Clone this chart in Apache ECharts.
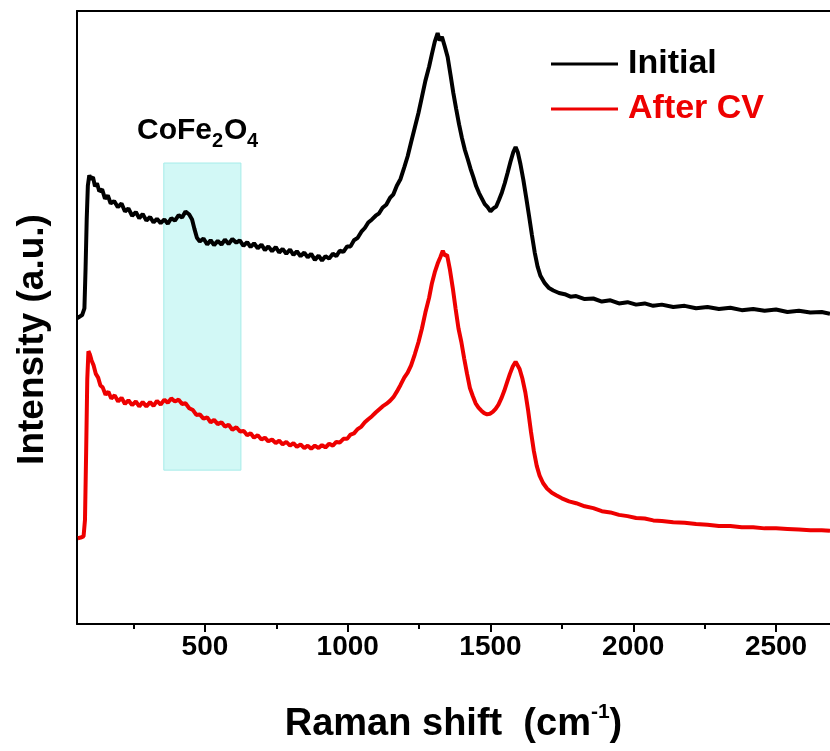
<!DOCTYPE html>
<html>
<head>
<meta charset="utf-8">
<script src="https://cdn.jsdelivr.net/npm/echarts@6/dist/echarts.min.js"></script>
<style>
html,body{margin:0;padding:0;background:#fff;}
#chart{width:830px;height:751px;}
</style>
</head>
<body>
<div id="chart"></div>
<script>
// ---- Data ----
const shiftInitial = [52,60,70,78,82,86,90,95,100,108,115,122,130,140,150,160,170,182,195,208,220,232,245,258,270,282,295,308,320,332,345,358,370,382,395,408,420,432,445,455,463,472,482,495,508,520,532,545,558,570,583,596,610,622,635,648,660,672,685,698,710,722,735,748,760,772,785,798,810,822,835,848,860,872,885,898,910,922,935,948,960,972,985,998,1010,1022,1035,1048,1060,1072,1085,1098,1110,1122,1135,1148,1160,1172,1185,1198,1210,1222,1235,1248,1260,1272,1285,1295,1305,1315,1322,1330,1340,1350,1360,1370,1380,1390,1400,1410,1420,1430,1440,1450,1460,1470,1480,1490,1500,1510,1520,1530,1540,1550,1560,1570,1580,1588,1596,1605,1615,1625,1635,1645,1655,1665,1675,1690,1705,1720,1740,1760,1780,1800,1830,1860,1890,1920,1950,1980,2010,2040,2070,2100,2140,2180,2220,2260,2300,2340,2380,2420,2460,2500,2540,2580,2620,2660,2689];
const intensityInitial = [49.9,50.1,50.4,51.5,58,66,71.5,73.2,72.6,72.9,71.4,71.9,70.6,70.9,69.4,69.9,68.6,69.0,68.0,68.6,67.3,67.8,66.6,67.2,66.2,66.9,65.8,66.4,65.5,66.1,65.4,66.0,65.3,66.2,65.8,66.7,66.3,67.3,66.8,66.0,64.5,63.0,62.4,62.9,61.9,62.6,61.8,62.5,61.9,62.7,62.0,62.8,62.2,62.6,61.7,62.3,61.5,62.1,61.3,61.9,61.0,61.6,60.8,61.5,60.6,61.2,60.4,61.1,60.2,60.8,60.0,60.6,59.8,60.4,59.4,60.1,59.3,60.0,59.6,60.4,60.0,60.9,60.7,61.6,61.6,62.6,63.0,64.0,64.6,65.5,66.0,66.6,67.0,67.9,68.4,69.5,70.1,71.5,72.6,74.5,76.3,78.6,81.0,83.4,86.0,88.6,90.9,93.0,95.0,96.4,95.2,95.8,94.2,92.5,89.6,86.6,84.0,81.5,79.3,77.4,75.9,74.3,72.9,71.4,70.3,69.4,68.5,68.0,67.3,67.8,68.1,69.2,70.4,71.9,73.6,75.4,77.0,77.8,76.9,75.0,72.5,69.6,66.6,63.5,60.6,58.3,56.8,55.6,54.8,54.4,54.0,53.8,53.4,53.5,53.0,53.1,52.6,52.8,52.3,52.5,52.1,52.3,51.9,52.1,51.7,51.9,51.5,51.7,51.4,51.6,51.2,51.4,51.1,51.3,50.9,51.1,50.8,50.9,50.6];

const shiftAfterCV = [55,65,75,80,84,88,92,97,103,110,118,126,134,142,152,162,172,184,196,208,220,232,245,258,270,282,295,308,320,332,345,358,370,382,395,408,420,432,445,458,470,482,495,508,520,532,545,558,570,583,596,610,623,636,648,660,672,685,698,710,722,735,748,760,772,785,798,810,822,835,848,860,872,885,898,910,922,935,948,960,972,985,998,1010,1022,1035,1048,1060,1072,1085,1098,1110,1122,1135,1148,1160,1172,1185,1198,1210,1222,1235,1248,1260,1272,1285,1295,1305,1315,1325,1333,1340,1348,1358,1368,1378,1388,1398,1408,1418,1428,1438,1448,1458,1468,1478,1488,1498,1508,1518,1528,1538,1548,1558,1568,1578,1588,1594,1602,1612,1622,1632,1642,1652,1662,1672,1684,1698,1715,1730,1750,1775,1800,1830,1860,1890,1920,1950,1980,2010,2040,2070,2100,2140,2180,2220,2260,2300,2340,2380,2420,2460,2500,2540,2580,2620,2660,2689];
const intensityAfterCV = [14.0,14.1,14.3,17,28,40,44.5,44.0,43.0,42.2,40.8,40.2,38.9,38.6,37.4,37.9,36.8,37.3,36.3,36.9,35.9,36.5,35.7,36.3,35.5,36.2,35.5,36.2,35.6,36.4,35.8,36.6,36.1,36.8,36.3,36.6,35.9,36.0,35.2,34.9,34.1,34.2,33.5,33.7,32.9,33.3,32.6,32.9,32.2,32.5,31.7,32.1,31.4,31.5,30.8,31.1,30.4,30.8,30.1,30.4,29.8,30.1,29.5,29.9,29.3,29.7,29.1,29.5,28.9,29.3,28.7,29.1,28.6,29.1,28.7,29.2,28.8,29.4,29.1,29.7,29.6,30.2,30.2,30.9,31.1,31.8,32.2,32.9,33.4,33.9,34.5,35.0,35.5,35.9,36.4,37.0,37.9,39.0,40.2,41.0,42.2,44.0,46.0,48.2,50.8,53.2,55.6,57.4,58.8,59.9,60.9,60.1,60.2,57.8,54.8,51.4,48.2,46.0,43.3,40.8,38.5,37.2,36.0,35.3,34.8,34.4,34.2,34.3,34.6,35.1,35.8,36.8,38.0,39.4,40.8,42.0,42.8,42.6,41.6,40.0,37.8,34.8,31.3,28.2,25.8,24.2,23.0,22.1,21.4,21.0,20.5,20.0,19.7,19.2,18.9,18.4,18.2,17.8,17.6,17.3,17.2,16.9,16.8,16.6,16.5,16.3,16.2,16.0,16.0,15.8,15.8,15.6,15.6,15.5,15.4,15.3,15.3,15.2];

const seriesNames = ['Initial', 'After CV'];
const majorTicks = [500, 1000, 1500, 2000, 2500];
const minorTicks = [250, 750, 1250, 1750, 2250];
const xRange = [52, 2689];
const yRange = [0, 100];
const bandShift = [356, 626];        // CoFe2O4 highlighted region (cm-1)
const bandIntensity = [25.1, 75.2];

// ---- Chart ----
const FONT = 'Arial, "Liberation Sans", Helvetica, sans-serif';
const zip = (xs, ys) => xs.map((x, i) => [x, ys[i]]);

const chart = echarts.init(document.getElementById('chart'), null, {renderer: 'canvas'});
chart.setOption({
  animation: false,
  backgroundColor: '#ffffff',
  grid: {left: 77, top: 11, right: 0, bottom: 127, containLabel: false, outerBoundsMode: 'none'},
  legend: {
    orient: 'vertical',
    left: 551,
    top: 44,
    padding: 0,
    itemWidth: 67,
    itemHeight: 3,
    itemGap: 5,
    icon: 'rect',
    textStyle: {fontFamily: FONT, fontWeight: 'bold', fontSize: 34, lineHeight: 40, padding: [0, 0, 0, 5]},
    data: [
      {name: seriesNames[0], textStyle: {color: '#000000'}},
      {name: seriesNames[1], textStyle: {color: '#ee0000'}}
    ]
  },
  xAxis: [
    {
      type: 'value', min: xRange[0], max: xRange[1], position: 'bottom',
      name: 'Raman shift  (cm{sup|-1})',
      nameLocation: 'middle', nameGap: 78,
      nameTextStyle: {
        fontFamily: FONT, fontWeight: 'bold', fontSize: 38, color: '#000',
        rich: {sup: {fontFamily: FONT, fontWeight: 'bold', fontSize: 21, color: '#000', padding: [0, 0, 24, 0]}}
      },
      axisLine: {show: true, lineStyle: {color: '#000', width: 2}},
      axisTick: {show: true, customValues: majorTicks, length: 8, lineStyle: {color: '#000', width: 2}},
      axisLabel: {show: true, customValues: majorTicks, margin: 9, fontFamily: FONT, fontWeight: 'bold', fontSize: 28, color: '#000', formatter: v => String(v)},
      splitLine: {show: false}
    },
    {
      type: 'value', min: xRange[0], max: xRange[1], position: 'bottom',
      axisLine: {show: false},
      axisTick: {show: true, customValues: minorTicks, length: 5, lineStyle: {color: '#000', width: 2}},
      axisLabel: {show: false},
      splitLine: {show: false}
    },
    {
      type: 'value', min: xRange[0], max: xRange[1], position: 'top',
      axisLine: {show: true, lineStyle: {color: '#000', width: 2}},
      axisTick: {show: false},
      axisLabel: {show: false},
      splitLine: {show: false}
    }
  ],
  yAxis: {
    type: 'value', min: yRange[0], max: yRange[1],
    name: 'Intensity (a.u.)', nameLocation: 'middle', nameGap: 26,
    nameTextStyle: {fontFamily: FONT, fontWeight: 'bold', fontSize: 37, color: '#000', padding: [0, 44, 0, 0]},
    axisLine: {show: true, lineStyle: {color: '#000', width: 2}},
    axisTick: {show: false},
    axisLabel: {show: false},
    splitLine: {show: false}
  },
  graphic: [
    {
      type: 'group', left: 137, top: 116,
      children: [
        {type: 'text', x: 0, y: 0, style: {text: 'CoFe', font: 'bold 30px ' + FONT, fill: '#000'}},
        {type: 'text', x: 75, y: 15, style: {text: '2', font: 'bold 20px ' + FONT, fill: '#000'}},
        {type: 'text', x: 87, y: 0, style: {text: 'O', font: 'bold 30px ' + FONT, fill: '#000'}},
        {type: 'text', x: 110, y: 15, style: {text: '4', font: 'bold 20px ' + FONT, fill: '#000'}}
      ]
    }
  ],
  series: [
    {
      name: seriesNames[0], type: 'line', showSymbol: false, symbol: 'none',
      data: zip(shiftInitial, intensityInitial),
      lineStyle: {color: '#000000', width: 4},
      itemStyle: {color: '#000000'},
      z: 3,
      markArea: {
        silent: true,
        itemStyle: {color: '#d2f8f6', borderColor: '#a6ece9', borderWidth: 1},
        data: [[{xAxis: bandShift[0], yAxis: bandIntensity[0]}, {xAxis: bandShift[1], yAxis: bandIntensity[1]}]]
      }
    },
    {
      name: seriesNames[1], type: 'line', showSymbol: false, symbol: 'none',
      data: zip(shiftAfterCV, intensityAfterCV),
      lineStyle: {color: '#ee0000', width: 4},
      itemStyle: {color: '#ee0000'},
      z: 3
    }
  ]
});
</script>
</body>
</html>
